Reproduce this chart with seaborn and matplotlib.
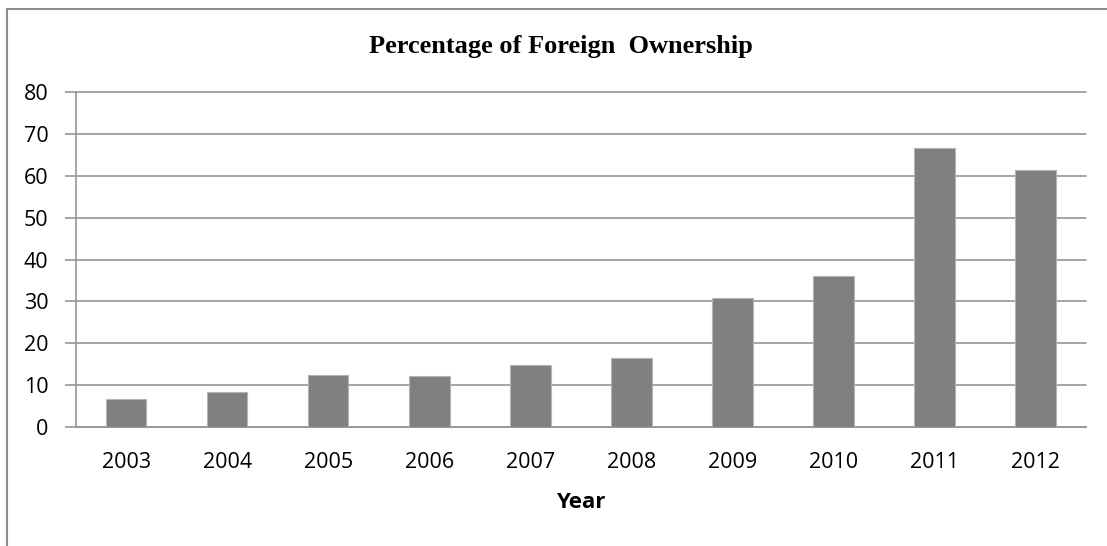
import matplotlib
matplotlib.use("Agg")
import matplotlib.pyplot as plt
import seaborn as sns
import pandas as pd
from matplotlib.patches import Rectangle

years = ["2003", "2004", "2005", "2006", "2007", "2008", "2009", "2010", "2011", "2012"]
foreign_pct = [6.8, 8.4, 12.3, 12.2, 14.8, 16.4, 30.9, 36.0, 66.7, 61.4]
y_ticks = [0, 10, 20, 30, 40, 50, 60, 70, 80]

df = pd.DataFrame({"Year": years, "Percentage": foreign_pct})

sns.set_theme(style="white")
plt.rcParams["font.family"] = ["Open Sans", "DejaVu Sans"]

W, H = 1107, 546
fig = plt.figure(figsize=(W / 100, H / 100), dpi=100)
ax = fig.add_axes([75.7 / W, 1 - 427 / H, (1086 - 75.7) / W, (427 - 92) / H])

grid_col = "#969696"

sns.barplot(data=df, x="Year", y="Percentage", color="#808080", width=0.4,
            saturation=1, edgecolor="#b4b4b4", linewidth=0.8, ax=ax, zorder=3)

ax.set_xlim(-0.5, len(years) - 0.5)
ax.set_ylim(0, 80)
ax.set_yticks(y_ticks)
ax.set_yticklabels([str(v) for v in y_ticks], fontsize=15.5, color="#000000")
ax.set_xticks(range(len(years)))
ax.set_xticklabels(years, fontsize=15.5, color="#000000")
ax.set_xticks([i - 0.5 for i in range(len(years) + 1)], minor=True)

ax.tick_params(axis="x", which="major", length=0, pad=18)
ax.tick_params(axis="x", which="minor", length=8, width=1.2, color=grid_col, direction="out")
ax.tick_params(axis="y", which="major", length=8, width=1.2, color=grid_col,
               direction="out", pad=11.5)
ax.tick_params(left=True, bottom=True)

ax.yaxis.grid(True, color=grid_col, linewidth=1.2, zorder=0)
ax.xaxis.grid(False)
ax.set_axisbelow(True)
for gl in ax.get_ygridlines():
    gl.set_clip_on(False)

for side in ["top", "right"]:
    ax.spines[side].set_visible(False)
for side in ["left", "bottom"]:
    ax.spines[side].set_color(grid_col)
    ax.spines[side].set_linewidth(1.2)

ax.set_ylabel("")
ax.set_xlabel("Year", fontsize=16, fontweight="bold", color="#000000", labelpad=14)

fig.text(561 / W, 1 - 47 / H, "Percentage of Foreign  Ownership",
         ha="center", va="center", fontsize=19, fontweight="bold",
         family=["Liberation Serif", "DejaVu Serif"], color="#000000")

# outer chart-area frame
fig.add_artist(Rectangle((7 / W, -0.1), 1.2, 1.1 - 9 / H, transform=fig.transFigure,
                         fill=False, edgecolor="#8c8c8c", linewidth=1.5))

fig.savefig("out.png", dpi=100, facecolor="white")
